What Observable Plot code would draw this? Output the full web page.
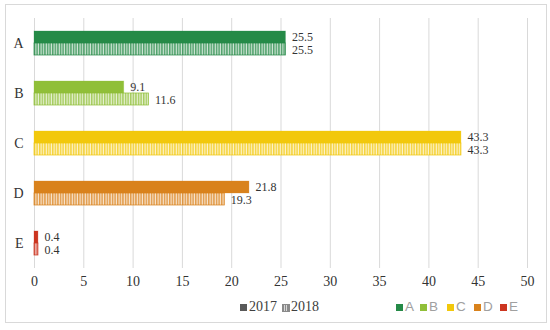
<!DOCTYPE html>
<html>
<head>
<meta charset="utf-8">
<script src="https://cdn.jsdelivr.net/npm/d3@7"></script>
<script src="https://cdn.jsdelivr.net/npm/@observablehq/plot@0.6"></script>
<style>
  html, body { margin: 0; padding: 0; background: #fff; }
  body { position: relative; width: 550px; height: 330px; overflow: hidden; }
  #frame { position: absolute; left: 5px; top: 4px; width: 540px; height: 317px; border: 1px solid #d9d9d9; }
  #chart { position: absolute; left: 0; top: 0; }
  .lg { position: absolute; top: 299px; height: 16px; line-height: 16px; font-size: 14px; white-space: nowrap; }
  .sw { position: absolute; width: 7px; height: 7px; top: 5px; }
  .yr { font-family: "Liberation Serif", serif; color: #404040; }
  .ct { font-family: "Liberation Sans", Arial, sans-serif; color: #a0a0a0; font-size: 13.5px; }
</style>
</head>
<body>
<div id="frame"></div>
<div id="chart"></div>
<div id="legend"></div>
<script>
const categories = ["A", "B", "C", "D", "E"];
const years = ["2017", "2018"];
const values2017 = [25.5, 9.1, 43.3, 21.8, 0.4];
const values2018 = [25.5, 11.6, 43.3, 19.3, 0.4];
const colors = ["#258a47", "#90bf38", "#f2c80c", "#d9821c", "#cc3520"];
const xTicks = [0, 5, 10, 15, 20, 25, 30, 35, 40, 45, 50];

const data = [];
categories.forEach((c, i) => {
  data.push({cat: c, year: "2017", value: values2017[i], idx: i});
  data.push({cat: c, year: "2018", value: values2018[i], idx: i});
});

const plot = Plot.plot({
  width: 550,
  height: 292,
  marginLeft: 34,
  marginRight: 23,
  marginTop: 18,
  marginBottom: 24,
  style: {fontFamily: "'Liberation Serif', serif", fontSize: "14px", color: "#333", background: "transparent"},
  x: {domain: [0, 50], ticks: xTicks, tickSize: 0, tickPadding: 8, label: null},
  y: {domain: years, axis: null, paddingInner: 0, paddingOuter: 1},
  fy: {domain: categories, padding: 0, tickSize: 0, tickPadding: 11, label: null, axis: "left"},
  marks: [
    Plot.gridX(xTicks, {stroke: "#d9d9d9", strokeOpacity: 1, strokeWidth: 1}),
    Plot.barX(data, {
      x: "value", y: "year", fy: "cat",
      fill: d => d.year === "2017" ? colors[d.idx] : `url(#pat${d.idx})`,
      stroke: d => colors[d.idx],
      strokeOpacity: d => d.year === "2017" ? 0.35 : 0.9,
      strokeWidth: 0.8
    }),
    Plot.text(data.filter(d => d.year === "2017"), {
      x: "value", y: "year", fy: "cat",
      text: d => d.value.toFixed(1),
      textAnchor: "start", dx: 6, dy: -0.5, fontSize: 12, fill: "#333"
    }),
    Plot.text(data.filter(d => d.year === "2018"), {
      x: "value", y: "year", fy: "cat",
      text: d => d.value.toFixed(1),
      textAnchor: "start", dx: 6, dy: 1, fontSize: 12, fill: "#333"
    })
  ]
});

// patterns for 2018 bars
const svg = d3.select(plot);
const defs = svg.insert("defs", ":first-child");
colors.forEach((c, i) => {
  const p = defs.append("pattern").attr("id", "pat" + i)
    .attr("patternUnits", "userSpaceOnUse").attr("width", 2.6).attr("height", 4);
  p.append("rect").attr("width", 2.6).attr("height", 4).attr("fill", c).attr("fill-opacity", 0.8);
  p.append("rect").attr("x", 1.5).attr("width", 1.1).attr("height", 4).attr("fill", "#fff").attr("fill-opacity", 0.75);
});

document.getElementById("chart").appendChild(plot);

// legend
const legend = document.getElementById("legend");
function item(left, swStyle, text, cls) {
  const d = document.createElement("div");
  d.className = "lg " + cls;
  d.style.left = left + "px";
  const s = document.createElement("span");
  s.className = "sw";
  Object.assign(s.style, swStyle);
  s.style.left = "0px";
  d.appendChild(s);
  const t = document.createElement("span");
  t.textContent = text;
  t.style.marginLeft = "9px";
  d.appendChild(t);
  legend.appendChild(d);
}
item(240, {background: "#595959"}, years[0], "yr");
item(282, {background: "repeating-linear-gradient(90deg, #8a8a8a 0 1.2px, #d8d8d8 1.2px 2.2px)", border: "0.5px solid #8a8a8a", width: "6px", height: "6px"}, years[1], "yr");
const catLeft = [396, 420, 447, 474, 500];
categories.forEach((c, i) => item(catLeft[i], {background: colors[i]}, c, "ct"));
</script>
</body>
</html>
